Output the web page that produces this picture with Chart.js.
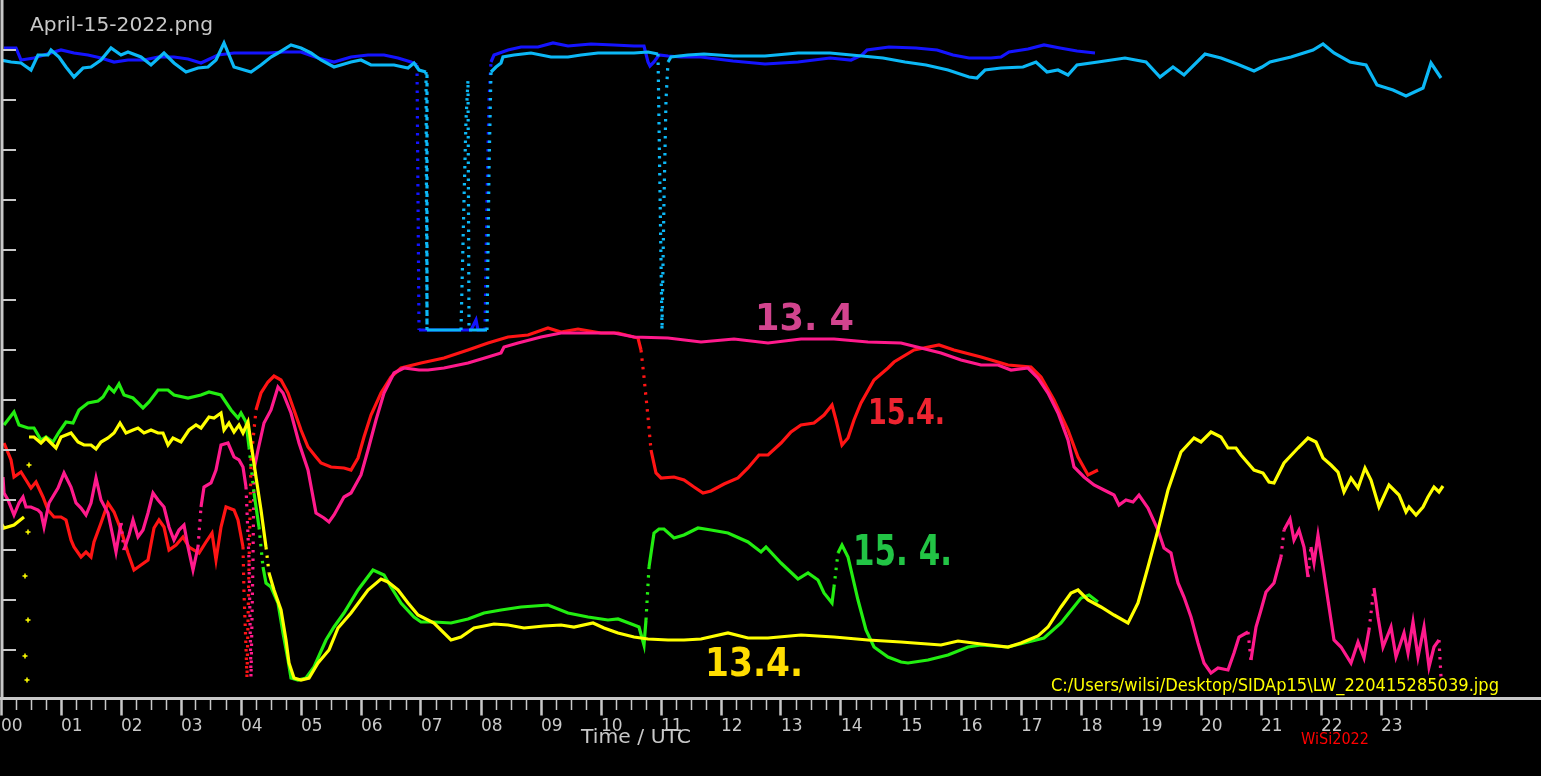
<!DOCTYPE html>
<html>
<head>
<meta charset="utf-8">
<script src="https://cdn.jsdelivr.net/npm/chart.js@4.4.1/dist/chart.umd.min.js"></script>
<style>
html,body{margin:0;padding:0;background:#000;overflow:hidden;}
#wrap{width:1541px;height:776px;position:relative;}
</style>
</head>
<body>
<div id="wrap"><canvas id="c"></canvas></div>
<script>
// time in minutes after 00 UTC, value in axis units (one tick = 1 unit)
const hourLabels = ['00','01','02','03','04','05','06','07','08','09','10','11','12','13','14','15','16','17','18','19','20','21','22','23'];

const blue = [[3,13.04],[15,13.04],[20,12.80],[33,12.84],[43,12.90],[60,13.00],[73,12.94],[87,12.90],[100,12.84],[113,12.76],[127,12.80],[143,12.80],[157,12.86],[173,12.86],[187,12.82],[200,12.74],[217,12.90],[233,12.94],[250,12.94],[267,12.94],[283,12.96],[300,12.96],[317,12.84],[333,12.76],[350,12.86],[367,12.90],[383,12.90],[397,12.84],[410,12.76],[416,12.70],[418,7.40],[427,7.40],[470,7.40],[475,7.60],[477,7.40],[484,7.40],[486,10.00],[488,12.00],[490,12.76],[493,12.90],[507,13.00],[520,13.06],[537,13.06],[552,13.14],[567,13.08],[590,13.12],[613,13.10],[633,13.08],[643,13.08],[647,12.76],[649,12.68],[653,12.76],[658,12.90],[667,12.88],[680,12.86],[700,12.86],[732,12.78],[764,12.72],[797,12.76],[829,12.84],[850,12.80],[861,12.90],[866,13.00],[888,13.06],[915,13.04],[936,13.00],[952,12.90],[968,12.84],[990,12.84],[1000,12.86],[1008,12.96],[1027,13.02],[1043,13.10],[1059,13.04],[1076,12.98],[1094,12.94]];

const cyan = [[0,12.80],[10,12.76],[20,12.74],[30,12.60],[37,12.90],[47,12.90],[50,13.00],[58,12.86],[65,12.66],[73,12.46],[82,12.64],[90,12.66],[100,12.80],[110,13.04],[120,12.90],[127,12.96],[140,12.86],[150,12.70],[163,12.94],[173,12.74],[185,12.56],[197,12.64],[207,12.66],[215,12.80],[223,13.14],[233,12.66],[250,12.56],[260,12.70],[270,12.86],[277,12.94],[290,13.10],[300,13.04],[310,12.94],[320,12.80],[333,12.66],[350,12.76],[360,12.80],[370,12.70],[383,12.70],[393,12.70],[407,12.64],[413,12.74],[418,12.60],[425,12.56],[426,7.40],[460,7.40],[463,10.00],[465,11.60],[467,12.40],[468,7.40],[486,7.40],[488,10.60],[490,12.56],[495,12.66],[500,12.74],[502,12.86],[513,12.90],[530,12.94],[550,12.86],[567,12.86],[580,12.90],[597,12.94],[613,12.94],[633,12.94],[647,12.96],[657,12.92],[661,7.40],[663,10.00],[665,12.00],[667,12.76],[670,12.86],[687,12.90],[703,12.92],[732,12.88],[764,12.88],[797,12.94],[829,12.94],[861,12.88],[882,12.84],[904,12.76],[925,12.70],[947,12.60],[968,12.46],[976,12.44],[984,12.60],[1000,12.64],[1022,12.66],[1035,12.76],[1046,12.56],[1057,12.60],[1067,12.50],[1076,12.70],[1097,12.76],[1124,12.84],[1145,12.76],[1159,12.46],[1172,12.66],[1183,12.50],[1204,12.92],[1220,12.84],[1236,12.72],[1253,12.58],[1261,12.66],[1269,12.76],[1290,12.86],[1312,13.00],[1322,13.12],[1333,12.94],[1349,12.76],[1365,12.70],[1376,12.30],[1392,12.20],[1405,12.08],[1422,12.24],[1430,12.74],[1440,12.44]];

const red = [[3,5.14],[10,4.80],[13,4.46],[20,4.56],[25,4.40],[30,4.24],[35,4.36],[42,4.06],[47,3.80],[53,3.66],[60,3.66],[65,3.60],[70,3.20],[73,3.06],[80,2.86],[85,2.96],[90,2.86],[93,3.16],[100,3.54],[107,3.94],[113,3.76],[120,3.40],[127,2.94],[133,2.60],[140,2.70],[147,2.80],[153,3.44],[158,3.60],[163,3.46],[168,3.00],[175,3.10],[182,3.26],[188,3.06],[198,2.94],[205,3.16],[211,3.34],[215,2.80],[220,3.46],[225,3.86],[233,3.80],[237,3.60],[242,3.06],[243,2.14],[245,1.06],[246,0.44],[248,2.66],[250,4.80],[255,5.80],[260,6.14],[267,6.36],[273,6.48],[280,6.40],[287,6.14],[293,5.80],[300,5.40],[307,5.06],[315,4.86],[320,4.74],[330,4.66],[343,4.64],[350,4.60],[357,4.84],[363,5.26],[370,5.70],[380,6.14],[390,6.46],[400,6.64],[420,6.74],[443,6.84],[467,7.00],[487,7.14],[507,7.26],[527,7.30],[547,7.44],[560,7.36],[577,7.42],[600,7.34],[617,7.34],[637,7.24],[640,7.00],[643,6.46],[647,5.66],[650,5.00],[655,4.54],[660,4.44],[673,4.46],[683,4.40],[693,4.26],[702,4.14],[710,4.18],[723,4.32],[737,4.44],[747,4.64],[758,4.90],[767,4.90],[780,5.14],[790,5.36],[800,5.50],[813,5.54],[823,5.70],[831,5.90],[835,5.60],[841,5.10],[847,5.24],[853,5.60],[860,5.94],[873,6.40],[887,6.64],[893,6.76],[913,7.00],[938,7.10],[953,7.00],[980,6.86],[1007,6.70],[1030,6.66],[1040,6.46],[1053,6.00],[1067,5.40],[1077,4.86],[1087,4.50],[1097,4.60]];

const pink = [[2,4.46],[3,4.14],[7,4.00],[13,3.70],[18,3.94],[22,4.06],[25,3.86],[30,3.86],[37,3.80],[40,3.74],[43,3.46],[48,3.94],[57,4.24],[63,4.54],[70,4.26],[75,3.94],[80,3.84],[85,3.70],[90,3.94],[95,4.44],[100,4.00],[107,3.74],[112,3.26],[115,2.96],[120,3.54],[123,3.00],[128,3.30],[132,3.60],[137,3.26],[142,3.40],[147,3.74],[152,4.14],[157,4.00],[163,3.86],[168,3.46],[173,3.20],[178,3.40],[183,3.50],[187,3.06],[192,2.60],[197,3.06],[200,3.86],[203,4.26],[210,4.34],[215,4.60],[220,5.10],[227,5.14],[233,4.86],[238,4.80],[242,4.66],[245,4.26],[248,2.80],[250,0.46],[252,2.80],[253,4.60],[257,5.00],[263,5.54],[270,5.80],[277,6.26],[282,6.14],[290,5.74],[298,5.14],[307,4.60],[315,3.74],[323,3.64],[328,3.56],[333,3.70],[343,4.06],[350,4.14],[360,4.50],[367,5.00],[375,5.60],[383,6.14],[393,6.54],[403,6.64],[418,6.60],[427,6.60],[443,6.64],[467,6.74],[487,6.86],[500,6.94],[503,7.06],[517,7.14],[540,7.26],[560,7.34],[587,7.34],[613,7.34],[633,7.26],[667,7.24],[700,7.16],[733,7.22],[767,7.14],[800,7.22],[833,7.22],[867,7.16],[900,7.14],[920,7.04],[940,6.94],[960,6.80],[980,6.70],[997,6.70],[1010,6.60],[1027,6.64],[1037,6.44],[1047,6.14],[1057,5.74],[1067,5.20],[1073,4.66],[1083,4.46],[1093,4.30],[1103,4.20],[1113,4.10],[1118,3.90],[1125,4.00],[1132,3.96],[1138,4.10],[1147,3.84],[1157,3.40],[1163,3.04],[1170,2.94],[1173,2.66],[1177,2.34],[1183,2.06],[1190,1.66],[1197,1.14],[1203,0.74],[1210,0.54],[1217,0.64],[1227,0.60],[1233,0.94],[1238,1.26],[1247,1.36],[1250,0.80],[1255,1.46],[1260,1.80],[1265,2.16],[1273,2.34],[1277,2.64],[1280,2.86],[1283,3.40],[1289,3.62],[1293,3.20],[1298,3.40],[1303,3.06],[1307,2.46],[1310,3.06],[1313,2.74],[1317,3.30],[1322,2.66],[1325,2.26],[1330,1.60],[1333,1.20],[1340,1.06],[1350,0.74],[1357,1.16],[1363,0.84],[1368,1.40],[1373,2.24],[1377,1.66],[1382,1.06],[1390,1.46],[1395,0.86],[1403,1.34],[1407,0.94],[1412,1.56],[1417,0.86],[1423,1.46],[1428,0.66],[1433,1.06],[1438,1.20],[1440,0.46]];

const green = [[3,5.50],[13,5.76],[18,5.50],[27,5.44],[33,5.44],[40,5.20],[45,5.26],[52,5.16],[58,5.36],[65,5.56],[72,5.54],[78,5.80],[87,5.94],[97,5.98],[102,6.06],[108,6.26],[113,6.16],[118,6.32],[123,6.10],[132,6.04],[142,5.84],[148,5.96],[157,6.20],[167,6.20],[173,6.10],[187,6.04],[200,6.10],[208,6.16],[220,6.10],[230,5.80],[237,5.64],[240,5.74],[245,5.56],[248,5.06],[253,4.14],[258,3.46],[262,2.66],[265,2.34],[270,2.26],[277,1.94],[282,1.34],[287,0.80],[290,0.44],[297,0.40],[305,0.44],[313,0.66],[325,1.20],[333,1.46],[343,1.74],[357,2.20],[372,2.60],[383,2.50],[390,2.26],[400,1.94],[413,1.66],[420,1.56],[433,1.56],[450,1.54],[467,1.62],[483,1.74],[500,1.80],[520,1.86],[547,1.90],[567,1.74],[587,1.66],[607,1.60],[617,1.62],[633,1.50],[638,1.46],[643,1.10],[645,1.60],[648,2.66],[653,3.34],[658,3.42],[663,3.42],[673,3.24],[683,3.30],[697,3.44],[710,3.40],[727,3.34],[747,3.16],[760,2.96],[765,3.06],[780,2.74],[797,2.42],[807,2.54],[817,2.40],[823,2.14],[831,1.94],[833,2.26],[837,2.94],[841,3.10],[847,2.86],[857,2.00],[865,1.40],[873,1.06],[887,0.86],[900,0.76],[907,0.74],[927,0.80],[947,0.90],[967,1.06],[980,1.10],[1007,1.06],[1027,1.16],[1043,1.24],[1060,1.54],[1080,2.04],[1088,2.10],[1097,1.96]];

const yellow = [[0,3.54],[3,3.44],[13,3.50],[23,3.66],[25,null],[28,5.26],[33,5.26],[40,5.14],[45,5.24],[50,5.14],[55,5.04],[60,5.26],[65,5.30],[70,5.34],[77,5.16],[83,5.10],[90,5.10],[95,5.02],[100,5.16],[107,5.24],[113,5.34],[119,5.54],[125,5.34],[132,5.40],[137,5.44],[143,5.34],[150,5.40],[157,5.34],[162,5.34],[167,5.10],[172,5.24],[180,5.16],[188,5.40],[195,5.50],[200,5.44],[208,5.66],[213,5.64],[220,5.74],[223,5.40],[228,5.54],[233,5.36],[238,5.50],[242,5.34],[247,5.56],[250,5.14],[255,4.46],[260,3.80],[265,3.06],[268,2.54],[273,2.20],[280,1.80],[285,1.20],[288,0.74],[293,0.44],[300,0.40],[308,0.44],[317,0.74],[328,1.00],[337,1.44],[350,1.74],[367,2.20],[380,2.42],[387,2.36],[397,2.20],[407,1.94],[417,1.70],[433,1.54],[450,1.20],[460,1.26],[473,1.44],[493,1.52],[507,1.50],[523,1.44],[543,1.48],[560,1.50],[573,1.46],[592,1.54],[603,1.44],[617,1.34],[633,1.26],[647,1.22],[667,1.20],[683,1.20],[700,1.22],[727,1.34],[747,1.24],[767,1.24],[800,1.30],[833,1.26],[867,1.20],[900,1.16],[913,1.14],[940,1.10],[957,1.18],[980,1.12],[1007,1.06],[1020,1.14],[1037,1.28],[1047,1.46],[1060,1.86],[1070,2.14],[1077,2.20],[1087,2.00],[1100,1.86],[1113,1.70],[1127,1.54],[1137,1.94],[1147,2.66],[1157,3.40],[1167,4.20],[1180,4.96],[1193,5.24],[1200,5.16],[1210,5.36],[1220,5.26],[1227,5.04],[1235,5.04],[1240,4.90],[1253,4.60],[1262,4.54],[1268,4.36],[1273,4.34],[1283,4.74],[1297,5.04],[1307,5.24],[1315,5.16],[1322,4.84],[1330,4.70],[1337,4.56],[1343,4.16],[1350,4.44],[1357,4.24],[1364,4.64],[1370,4.40],[1378,3.86],[1388,4.30],[1398,4.10],[1405,3.76],[1408,3.86],[1415,3.70],[1422,3.86],[1427,4.06],[1433,4.26],[1438,4.16],[1442,4.28]];

const yellowDots = [[28,4.70],[27,3.36],[24,2.48],[27,1.60],[24,0.88],[26,0.40]];

const quarterTicks = [];
hourLabels.forEach((_, h) => { for (let q = 0; q < 4; q++) quarterTicks.push(h * 60 + q * 15); });

const toXY = arr => arr.map(([x, y]) => ({x, y}));
const steep = ctx => {
  const a = ctx.p0, b = ctx.p1;
  const dy = Math.abs(b.y - a.y), dx = Math.abs(b.x - a.x);
  return dy > 25 && dy > 8 * dx;
};
function lineSet(label, arr, color) {
  return {
    label, data: toXY(arr), borderColor: color, backgroundColor: color,
    borderWidth: 3.2, pointRadius: 0, tension: 0, spanGaps: false,
    segment: { borderDash: ctx => steep(ctx) ? [2.5, 6] : undefined }
  };
}

const GRAY = '#c8c8c8';

function fitText(ctx, text, x, base, width, height, color, family, weight) {
  ctx.save();
  ctx.font = (weight || 'normal') + ' ' + height + 'px ' + family;
  const w = ctx.measureText(text).width;
  ctx.translate(x, base);
  ctx.scale(width / w, 1);
  ctx.fillStyle = color;
  ctx.textBaseline = 'alphabetic';
  ctx.textAlign = 'left';
  ctx.fillText(text, 0, 0);
  ctx.restore();
}

const decor = {
  id: 'decor',
  beforeDraw(chart) {
    const c = chart.ctx;
    c.save(); c.fillStyle = '#000'; c.fillRect(0, 0, chart.width, chart.height); c.restore();
  },
  afterDraw(chart) {
    const c = chart.ctx, ys = chart.scales.y, area = chart.chartArea;
    c.save();
    c.strokeStyle = GRAY; c.lineWidth = 3;
    c.beginPath(); c.moveTo(2, 0); c.lineTo(2, area.bottom); c.stroke();
    c.lineWidth = 2;
    for (let v = 1; v <= 13; v++) {
      const y = Math.round(ys.getPixelForValue(v));
      c.beginPath(); c.moveTo(2, y); c.lineTo(16, y); c.stroke();
    }
    c.restore();
    const f = '"DejaVu Sans", sans-serif';
    fitText(c, 'April-15-2022.png', 30, 31, 183, 19, GRAY, f);
    fitText(c, 'Time / UTC', 581, 743, 110, 19, GRAY, f);
    fitText(c, 'C:/Users/wilsi/Desktop/SIDAp15\\LW_220415285039.jpg', 1051, 691, 448, 17, '#ffff00', f);
    fitText(c, 'WiSi2022', 1301, 744, 68, 16, '#ff0000', f);
    fitText(c, '13. 4', 755, 330, 99, 37, '#d2448e', f, 'bold');
    fitText(c, '15.4.', 868, 424, 77, 36, '#ee2430', f, 'bold');
    fitText(c, '15. 4.', 853, 565, 99, 42, '#22c445', f, 'bold');
    fitText(c, '13.4.', 705, 676, 98, 39, '#ffdd00', f, 'bold');
  }
};

new Chart(document.getElementById('c'), {
  type: 'line',
  data: {
    datasets: [
      { label: 'yellowDots', data: toXY(yellowDots), showLine: false, pointStyle: 'cross', pointRadius: 2.5, pointBorderWidth: 1.5, borderColor: '#ffff00', backgroundColor: '#ffff00' },
      lineSet('yellow', yellow, '#ffff00'),
      lineSet('green', green, '#22ee11'),
      lineSet('pink', pink, '#ff1a8c'),
      lineSet('red', red, '#ff1414'),
      lineSet('cyan', cyan, '#0cb8f6'),
      lineSet('blue', blue, '#1414ff')
    ]
  },
  options: {
    responsive: true, maintainAspectRatio: false, animation: false, devicePixelRatio: 1,
    layout: { autoPadding: false, padding: { left: 1, right: 0, top: 0, bottom: 0 } },
    plugins: { legend: { display: false }, tooltip: { enabled: false }, title: { display: false } },
    scales: {
      x: {
        type: 'linear', min: 0, max: 1540, position: 'bottom',
        afterBuildTicks: s => { s.ticks = quarterTicks.map(v => ({ value: v })); },
        afterFit: s => { s.height = 77.5; s.paddingLeft = 0; s.paddingRight = 0; },
        border: { display: true, color: GRAY, width: 3 },
        grid: {
          display: true, drawOnChartArea: false, drawTicks: true, tickLength: 17, tickColor: GRAY,
          tickWidth: c => (c.tick && c.tick.value % 60 === 0) ? 2.5 : 1.5,
          tickBorderDash: c => (c.tick && c.tick.value % 60 === 0) ? [] : [10, 40]
        },
        ticks: {
          autoSkip: false, maxRotation: 0, minRotation: 0, align: 'start', padding: 1,
          color: GRAY, font: { family: '"DejaVu Sans", sans-serif', size: 17 },
          callback: v => (v % 60 === 0) ? hourLabels[v / 60] : ''
        }
      },
      y: { display: false, min: 0.03, max: 14 }
    }
  },
  plugins: [decor]
});
</script>
</body>
</html>
